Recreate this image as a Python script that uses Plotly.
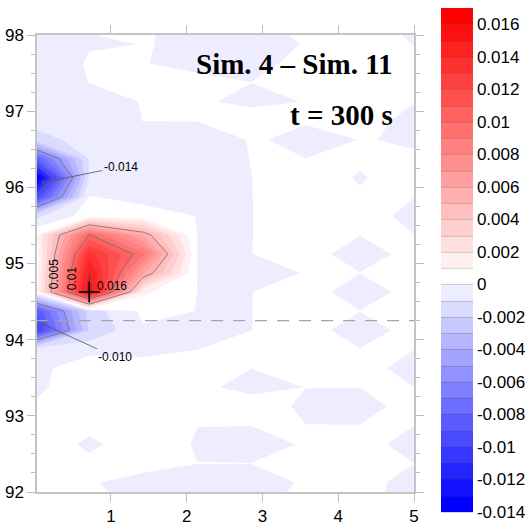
import plotly.graph_objects as go

# Grid columns (distance) and rows (elevation); rows run from top to bottom
x_cols = [0.0, 0.714, 1.429, 2.143, 2.857, 3.571, 4.286, 5.0]
y_rows = [98.125, 97.875, 97.625, 97.375, 97.125, 96.875, 96.625, 96.375,
          96.125, 95.875, 95.625, 95.375, 95.125, 94.875, 94.625, 94.375,
          94.125, 93.875, 93.625, 93.375, 93.125, 92.875, 92.625, 92.375,
          92.125, 91.875]

# Difference field Sim. 4 - Sim. 11 at t = 300 s (one list per row)
dz = [
    [-0.0004, 0.00002, 0.0001, -0.0003, -0.0003, 0.0003, 0.0004, -0.0003],
    [-0.0004, -0.00003, 0.000005, -0.00002, -0.0003, 0.00004, 0.0004, -0.00001],
    [-0.0004, 0.00005, 0.00004, -0.0003, -0.0003, 0.0003, 0.0004, 0.0003],
    [-0.0004, 0.00001, 0.0004, 0.0003, 0.00001, 0.0003, 0.0004, 0.0002],
    [-0.0004, -0.0004, 0.00004, 0.00017, -0.0003, 0.00004, 0.0004, 0.00003],
    [-0.0006, -0.0004, 0.00001, 0.00003, 0.0007, 0.00006, 0.0004, -0.0003],
    [-0.0015, -0.0005, -0.0004, -0.0008, 0.00009, -0.0002, 0.00001, -0.00002],
    [-0.0084, -0.0009, -0.0004, -0.0004, 0.00002, 0.000005, 0.00015, 0.00002],
    [-0.0145, -0.0009, -0.0004, -0.0004, -0.00001, 0.0006, -0.0001, 0.0006],
    [-0.0100, 0.00002, -0.00015, -0.0004, -0.00001, 0.0004, 0.00014, 0.00001],
    [-0.0013, 0.0005, 0.0002, -0.00001, -0.00001, 0.0004, 0.0006, -0.0004],
    [0.0008, 0.0101, 0.0058, -0.00001, -0.00001, 0.0004, 0.00002, 0.00001],
    [0.0001, 0.0135, 0.0092, -0.00001, -0.00001, 0.00045, -0.0005, 0.00036],
    [0.0001, 0.0153, 0.0061, -0.00001, -0.0002, 0.000025, 0.00002, 0.0004],
    [0.0003, 0.0163, 0.0012, -0.00001, -0.00001, 0.00045, -0.0005, 0.00036],
    [-0.0090, -0.0015, 0.0002, -0.00001, -0.00001, 0.00045, 0.00002, 0.0004],
    [-0.0105, -0.0019, -0.0001, -0.0001, -0.000005, 0.00045, -0.0005, 0.00036],
    [-0.0003, -0.0003, -0.0001, -0.00001, 0.0003, 0.0004, 0.00003, 0.00001],
    [-0.0003, 0.0006, 0.00014, 0.0003, 0.00001, 0.0004, 0.0004, -0.0004],
    [-0.0003, 0.0009, 0.0004, 0.00022, -0.0003, 0.00001, 0.00001, 0.00001],
    [0.00013, 0.0004, 0.0004, 0.0004, 0.00048, -0.00018, -0.0003, 0.0003],
    [0.0003, 0.0003, 0.0004, 0.00001, 0.00001, 0.00001, 0.00001, 0.00001],
    [0.0009, -0.00025, 0.0007, -0.0001, -0.0003, 0.000075, 0.0004, -0.0004],
    [0.0004, 0.0003, 0.0003, 0.00001, 0.00001, 0.0003, 0.0004, 0.00001],
    [0.0002, 0.00007, -0.0003, -0.0003, -0.0003, 0.000075, 0.0004, -0.0004],
    [-0.0003, 0.0003, -0.0003, -0.0003, -0.0003, 0.0003, 0.0003, -0.0004],
]

# Contour levels
level_start = -0.014
level_end = 0.017
level_step = 0.001
pos_isolines = [0.005, 0.015, 0.005]   # start, end, step
neg_isolines = [-0.010, -0.005, 0.005]

# Colour key ticks
cbar_ticks = [-0.014, -0.012, -0.010, -0.008, -0.006, -0.004, -0.002, 0.0,
              0.002, 0.004, 0.006, 0.008, 0.010, 0.012, 0.014, 0.016]
cbar_text = ["-0.014", "-0.012", "-0.01", "-0.008", "-0.006", "-0.004", "-0.002", "0",
             "0.002", "0.004", "0.006", "0.008", "0.01", "0.012", "0.014", "0.016"]

x_ticks = [1, 2, 3, 4, 5]
y_ticks = [92, 93, 94, 95, 96, 97, 98]

section_y = 94.25
title_lines = ["Sim. 4 \u2013 Sim. 11", "t = 300 s"]
minimum_labels = ["-0.014", "-0.010"]
isoline_labels = ["0.005", "0.01"]

AX_FONT = "Liberation Sans, Arial, sans-serif"
SERIF = "Liberation Serif, Times New Roman, serif"


def band_color(mid):
    """Blue below zero, white for the first positive band, red above."""
    if mid < 0:
        k = round(-mid / level_step + 0.5)
        f = k / 14.0
        v = round(255 * (1 - f))
        return f"rgb({v},{v},255)"
    k = round(mid / level_step - 0.5)
    f = k / 16.0
    v = round(255 * (1 - f))
    return f"rgb(255,{v},{v})"


n_bands = round((level_end - level_start) / level_step)
span = level_end - level_start
mids = [level_start + (i + 0.5) * level_step for i in range(n_bands)]
cscale = [[0.0, band_color(mids[0])]]
cscale += [[(m - level_start) / span, band_color(m)] for m in mids]
cscale += [[1.0, band_color(mids[-1])]]

contour_levels = dict(start=level_start, end=level_end, size=level_step, coloring="fill")

fig = go.Figure()

# filled difference field
fig.add_trace(go.Contour(
    x=x_cols, y=y_rows, z=dz,
    zmin=level_start, zmax=level_end + 1e-7,
    colorscale=cscale,
    contours=dict(contour_levels, showlines=False),
    line=dict(smoothing=0, width=0),
    showscale=False, hoverinfo="skip",
))

# transparent copy that carries the colour key with band separators
fig.add_trace(go.Contour(
    x=x_cols, y=y_rows, z=dz,
    zmin=level_start, zmax=level_end + 1e-7,
    colorscale=cscale,
    contours=dict(contour_levels, showlines=True),
    line=dict(smoothing=0, width=0.7, color="rgba(70,70,70,0.35)"),
    opacity=0, hoverinfo="skip",
    showscale=True,
    colorbar=dict(
        thickness=32, lenmode="pixels", len=504,
        x=1.0716, xanchor="left", xpad=0,
        y=0.5077, yanchor="middle", ypad=0,
        outlinewidth=0, ticks="",
        tickvals=cbar_ticks, ticktext=cbar_text,
        tickfont=dict(family=AX_FONT, size=17, color="black"),
    ),
))

# labelled isolines
for lv in (pos_isolines, neg_isolines):
    fig.add_trace(go.Contour(
        x=x_cols, y=y_rows, z=dz,
        contours=dict(start=lv[0], end=lv[1], size=lv[2], coloring="none"),
        line=dict(smoothing=0, width=0.8, color="rgb(110,110,110)"),
        showscale=False, hoverinfo="skip",
    ))

# location of the largest difference
peak_val = max(max(r) for r in dz)
peak_i = next(i for i, r in enumerate(dz) if peak_val in r)
peak_j = dz[peak_i].index(peak_val)
peak_x, peak_y = x_cols[peak_j], y_rows[peak_i]

fig.add_trace(go.Scatter(
    x=[peak_x], y=[peak_y], mode="markers",
    marker=dict(symbol="cross-thin", size=15, line=dict(width=1.6, color="black")),
    showlegend=False, hoverinfo="skip",
))

fig.add_shape(type="line", xref="x", yref="y", x0=0, x1=5, y0=section_y, y1=section_y,
              line=dict(color="rgb(165,165,165)", width=1.2, dash="12px,10px"))

small = dict(family=AX_FONT, size=12, color="black")
big = dict(family=SERIF, size=29, color="black", weight="bold")

annotations = [
    dict(x=4.75, y=97.62, text=title_lines[0], showarrow=False, xanchor="right",
         yanchor="middle", font=big),
    dict(x=4.75, y=96.95, text=title_lines[1], showarrow=False, xanchor="right",
         yanchor="middle", font=big),
    dict(x=0.09, y=96.06, ax=1.13, ay=96.27, axref="x", ayref="y", text=minimum_labels[0],
         showarrow=True, arrowhead=4, arrowsize=1.1, arrowwidth=0.8, arrowcolor="#555",
         standoff=0, font=small),
    dict(x=0.09, y=94.21, ax=1.06, ay=93.77, axref="x", ayref="y", text=minimum_labels[1],
         showarrow=True, arrowhead=4, arrowsize=1.1, arrowwidth=0.8, arrowcolor="#555",
         standoff=0, font=small),
    dict(x=0.25, y=94.86, text=isoline_labels[0], textangle=-90, showarrow=False, font=small),
    dict(x=0.49, y=94.81, text=isoline_labels[1], textangle=-90, showarrow=False, font=small),
    dict(x=peak_x + 0.07, y=peak_y + 0.08, text=f"{peak_val:.3f}", showarrow=False,
         xanchor="left", yanchor="middle", font=small),
]

axis_common = dict(
    showgrid=False, zeroline=False, showline=True, linecolor="#c4c4c4", linewidth=1.5,
    mirror="ticks", ticks="outside", ticklen=8, tickcolor="#bdbdbd", tickwidth=1,
    tickfont=dict(family=AX_FONT, size=17, color="black"),
)

fig.update_layout(
    width=530, height=525,
    margin=dict(l=37, r=116, t=35, b=33, autoexpand=False),
    paper_bgcolor="white", plot_bgcolor="white",
    showlegend=False,
    xaxis=dict(axis_common, range=[0.025, 5], tickvals=x_ticks),
    yaxis=dict(axis_common, range=[92, 98], tickvals=y_ticks,
               minor=dict(dtick=0.25, ticks="outside", ticklen=4, tickcolor="#bdbdbd")),
    annotations=annotations,
)

fig.write_html("out.html")
